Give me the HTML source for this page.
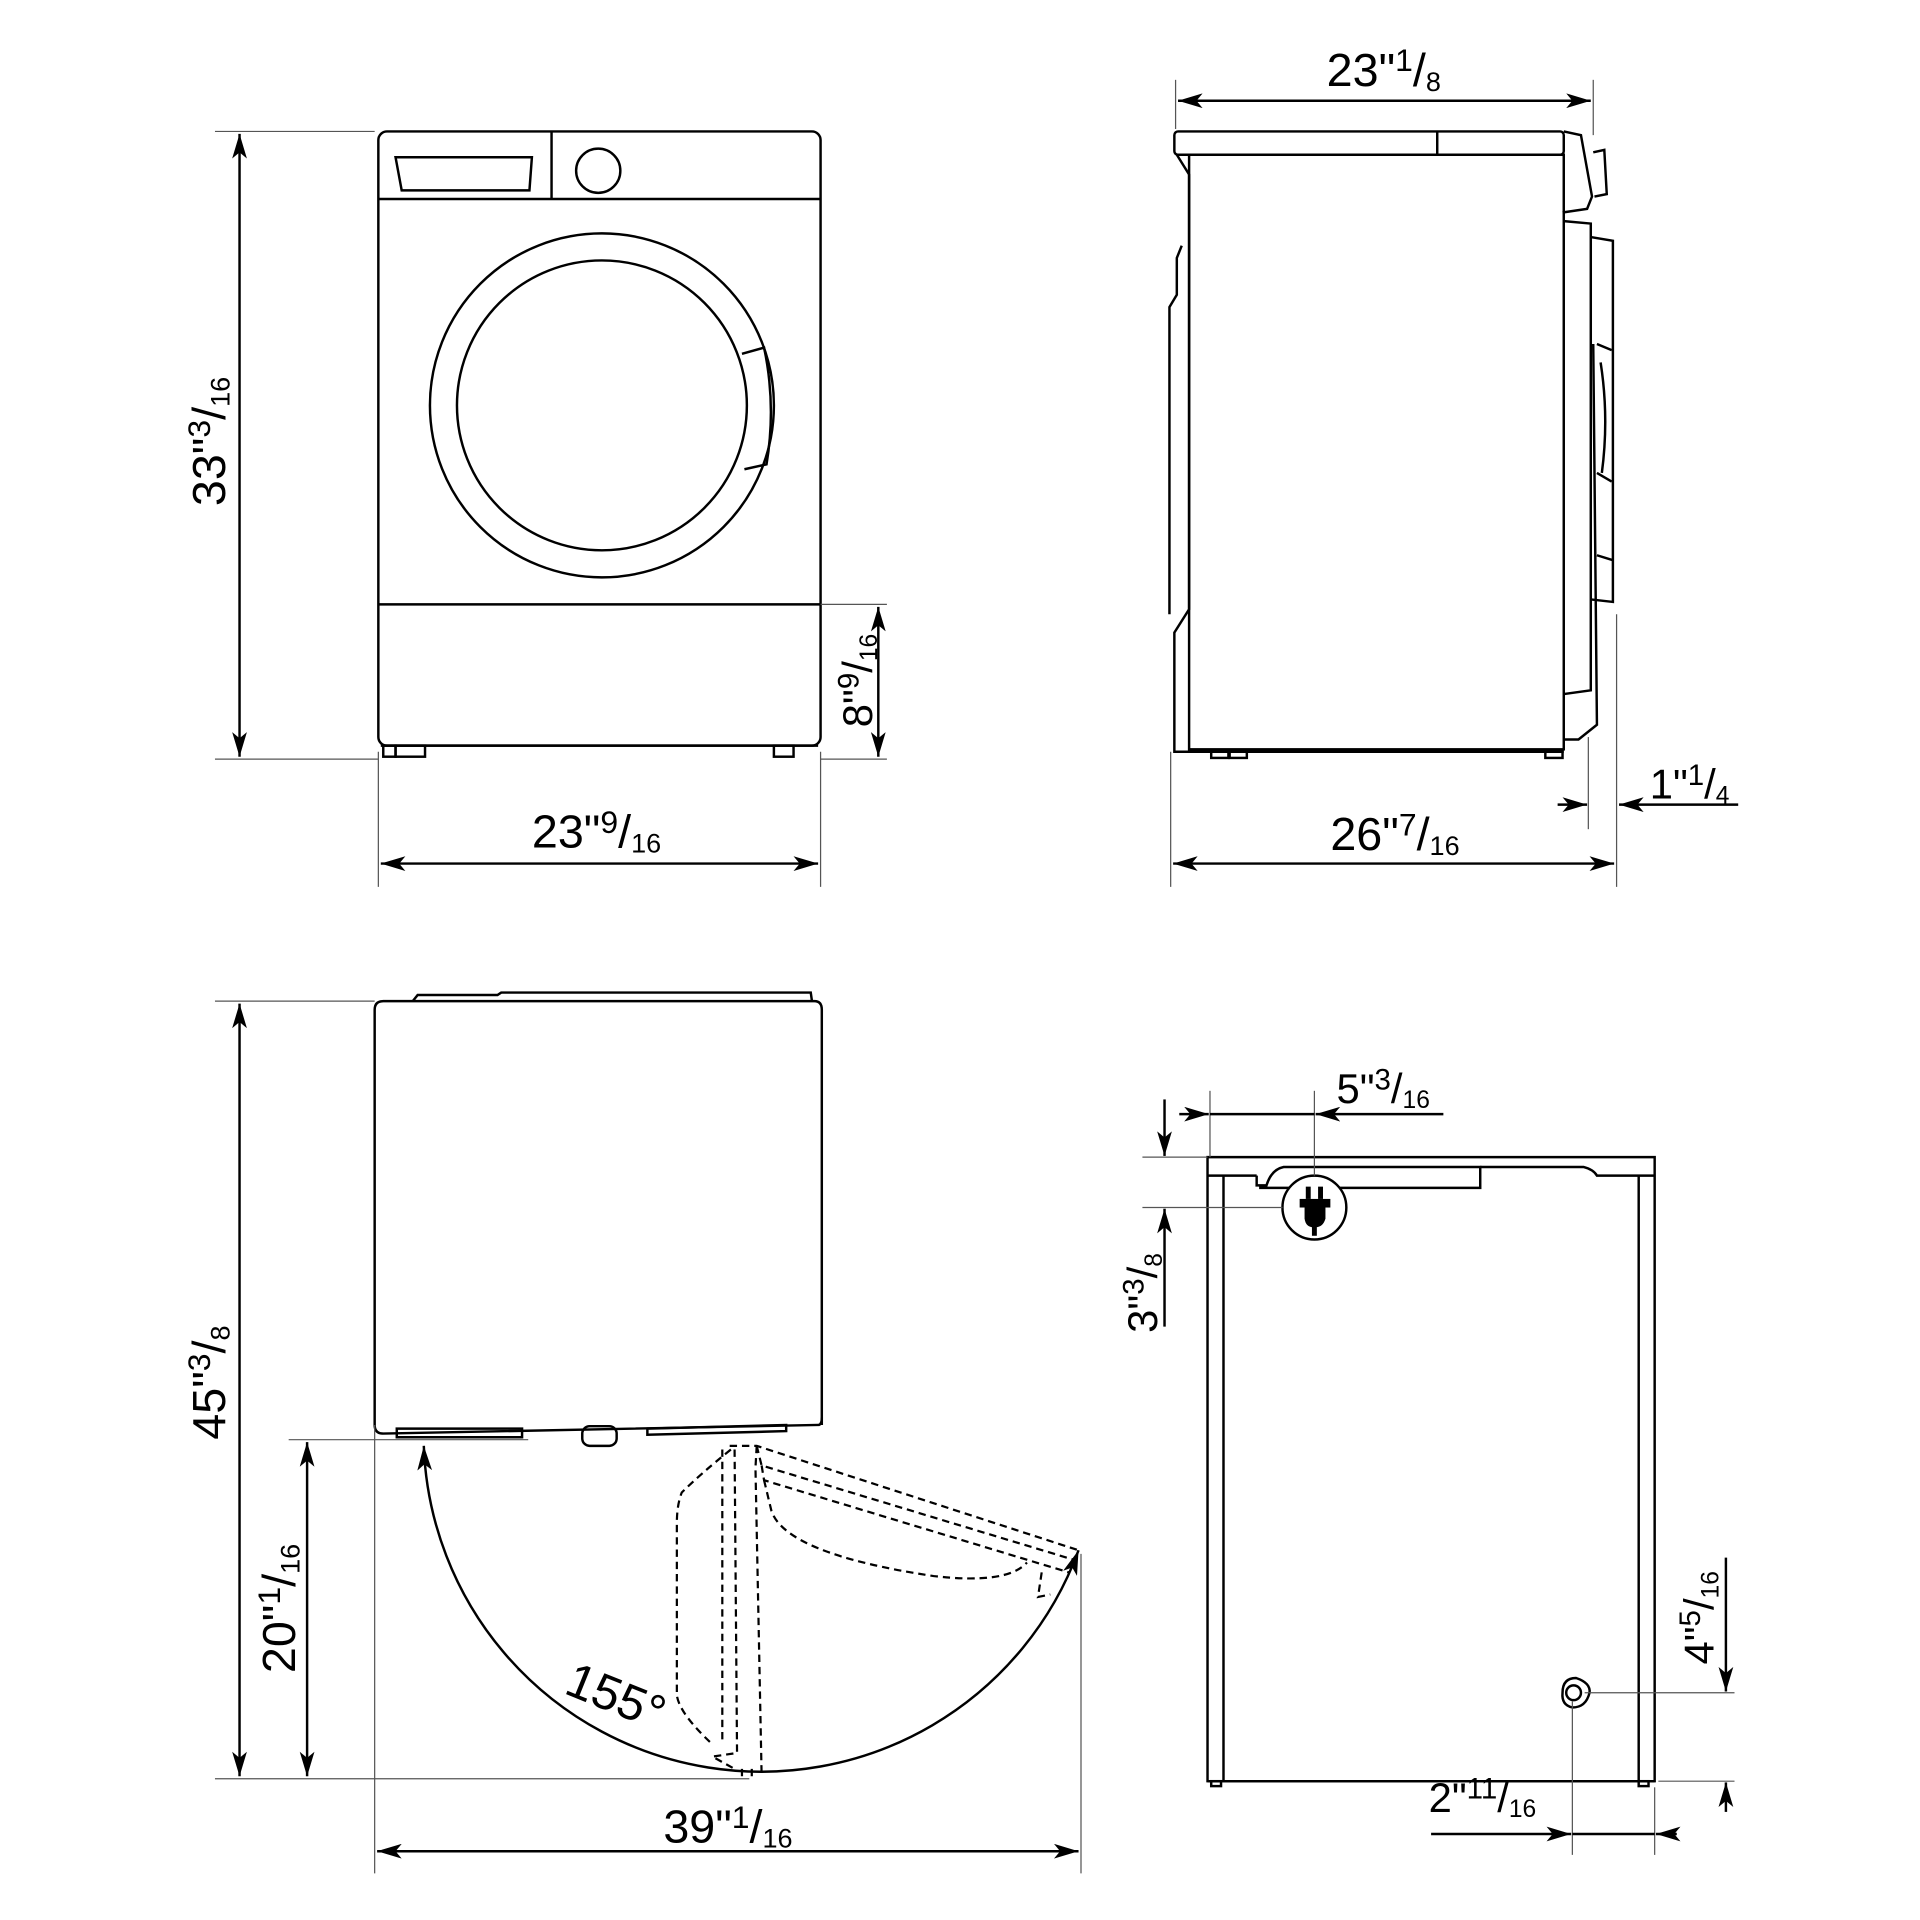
<!DOCTYPE html>
<html><head><meta charset="utf-8"><style>html,body{margin:0;padding:0;background:#fff}svg{display:block}</style></head>
<body>
<svg width="1920" height="1920" viewBox="0 0 1563 1563" xmlns="http://www.w3.org/2000/svg" font-family="Liberation Sans, sans-serif">
<defs>
<marker id="a" viewBox="0 0 20 12" refX="20" refY="6" markerWidth="20" markerHeight="12" markerUnits="userSpaceOnUse" orient="auto-start-reverse"><path d="M0,0 L20,6 L0,12 L5,6 Z" fill="#000"/></marker>
</defs>
<g fill="none" stroke="#000" stroke-width="2">
<!-- FRONT VIEW -->
<rect x="308" y="107" width="360" height="500" rx="7"/>
<line x1="308" y1="162" x2="668" y2="162"/>
<line x1="449" y1="107" x2="449" y2="162"/>
<path d="M322,128 L433,128 L431,155 L327,155 Z"/>
<circle cx="487" cy="139" r="18"/>
<circle cx="490" cy="330" r="140"/>
<circle cx="490" cy="330" r="118"/>
<path d="M604,288 L622,283 Q632,330 624,378 L606,382"/>
<line x1="308" y1="492" x2="668" y2="492"/>
<line x1="310" y1="607" x2="666" y2="607"/>
<rect x="312" y="607" width="10" height="9"/>
<rect x="322" y="607" width="24" height="9"/>
<rect x="630" y="607" width="16" height="9"/>
<!-- SIDE VIEW -->
<rect x="956" y="107" width="317" height="19" rx="3"/>
<line x1="1170" y1="107" x2="1170" y2="126"/>
<rect x="968" y="126" width="305" height="484"/>
<path d="M958,126 L968,142 L968,496 L956,515 L956,612 L1273,612"/>
<path d="M962,200 L958,210 L958,240 L952,250 L952,500"/>
<path d="M1273,107 L1287,110 L1296,160 L1292,170 L1272,173"/>
<path d="M1297,124 L1306,122 L1308,158 L1298,160"/>
<path d="M1273,180 L1295,182 L1295,562 L1273,565"/>
<path d="M1295,193 L1313,196 L1313,490 L1295,488"/>
<path d="M1297,280 L1300,590 L1285,602 L1273,602"/>
<path d="M1300,280 L1312,285 M1300,385 L1312,392 M1300,452 L1313,456"/>
<path d="M1303,295 Q1310,340 1304,385"/>
<rect x="986" y="612" width="14" height="5"/>
<rect x="1001" y="612" width="14" height="5"/>
<rect x="1258" y="612" width="14" height="5"/>
<!-- TOP VIEW (door) -->
<path d="M305,1160 L305,822 Q305,815 312,815 L663,815 Q669,815 669,822 L669,1160"/>
<path d="M336,815 L340,810 L405,810 L408,808 L660,808 L661,815" />
<path d="M305,1160 Q305,1167 312,1167 L666,1160 Q669,1160 669,1154"/>
<path d="M323,1163 L425,1163 L425,1170 L323,1170 Z"/>
<path d="M527,1163 L640,1160 L640,1165 L527,1168 Z"/>
<rect x="474" y="1161" width="28" height="16" rx="6"/>
<g stroke-dasharray="6,4" stroke-width="1.8">
<path d="M594,1177 L616,1177 L878,1262"/>
<path d="M616,1177 L620,1193 L875,1270"/>
<path d="M622,1205 L628,1230 Q640,1265 760,1283 Q820,1290 836,1272"/>
<path d="M620,1193 L622,1205 L870,1280"/>
<path d="M595,1180 Q570,1200 555,1215 Q551,1225 551,1240 L551,1380 Q553,1395 580,1420"/>
<path d="M588,1180 L588,1420"/>
<path d="M598,1180 L600,1427 L580,1430 L598,1440"/>
<path d="M616,1177 L615,1195 L620,1445"/>
<path d="M612,1440 L612,1447 M604,1440 L604,1447"/>
<path d="M848,1280 L845,1300 L855,1298"/>
</g>
<path d="M345,1177 A275,275 0 0 0 878,1262" marker-start="url(#a)" marker-end="url(#a)"/>
<!-- BACK VIEW -->
<path d="M983,1450 L983,942 L1347,942 L1347,1450 Z"/>
<path d="M983,957 L1023,957 M996,957 L996,1450 M1334,957 L1334,1450"/>
<path d="M1023,957 L1023,965 L1031,965 Q1035,952 1045,950 L1205,950 L1205,967 L1025,967"/>
<path d="M1205,950 L1289,950 Q1297,952 1300,957 L1302,957 L1347,957"/>
<path d="M983,1450 L1347,1450"/>
<rect x="986" y="1450" width="8" height="4"/>
<rect x="1334" y="1450" width="8" height="4"/>
<circle cx="1070" cy="983" r="26" fill="#fff"/>
<path d="M1272,1378 Q1272,1366 1283,1366 Q1295,1370 1294,1378 Q1291,1390 1280,1390 Q1271,1388 1272,1378 Z"/>
<circle cx="1281" cy="1378" r="6"/>
</g>
<!-- plug icon -->
<g fill="#000">
<rect x="1063" y="966" width="4" height="10"/><rect x="1073" y="966" width="4" height="10"/>
<rect x="1058" y="976" width="25" height="7"/>
<path d="M1062,983 L1079,983 L1079,992 Q1077,999 1071,999 L1069,999 Q1063,999 1062,992 Z"/>
<rect x="1068" y="998" width="4" height="8"/>
</g>
<!-- extension lines -->
<g stroke="#555" stroke-width="1" fill="none">
<line x1="175" y1="107" x2="305" y2="107"/><line x1="175" y1="618" x2="308" y2="618"/>
<line x1="668" y1="492" x2="722" y2="492"/><line x1="668" y1="618" x2="722" y2="618"/>
<line x1="308" y1="612" x2="308" y2="722"/><line x1="668" y1="612" x2="668" y2="722"/>
<line x1="957" y1="65" x2="957" y2="105"/><line x1="1297" y1="65" x2="1297" y2="110"/>
<line x1="953" y1="612" x2="953" y2="722"/><line x1="1316" y1="500" x2="1316" y2="722"/><line x1="1293" y1="600" x2="1293" y2="675"/>
<line x1="175" y1="815" x2="305" y2="815"/><line x1="175" y1="1448" x2="610" y2="1448"/>
<line x1="235" y1="1172" x2="430" y2="1172"/>
<line x1="305" y1="1160" x2="305" y2="1525"/><line x1="880" y1="1265" x2="880" y2="1525"/>
<line x1="985" y1="888" x2="985" y2="942"/><line x1="1070" y1="888" x2="1070" y2="957"/>
<line x1="930" y1="942" x2="983" y2="942"/><line x1="930" y1="983" x2="1044" y2="983"/>
<line x1="1290" y1="1378" x2="1412" y2="1378"/><line x1="1350" y1="1450" x2="1412" y2="1450"/>
<line x1="1280" y1="1385" x2="1280" y2="1510"/><line x1="1347" y1="1455" x2="1347" y2="1510"/>
</g>
<!-- dimension lines -->
<g stroke="#000" stroke-width="2" fill="none">
<line x1="195" y1="109" x2="195" y2="616" marker-start="url(#a)" marker-end="url(#a)"/>
<line x1="715" y1="494" x2="715" y2="616" marker-start="url(#a)" marker-end="url(#a)"/>
<line x1="310" y1="703" x2="666" y2="703" marker-start="url(#a)" marker-end="url(#a)"/>
<line x1="959" y1="82" x2="1295" y2="82" marker-start="url(#a)" marker-end="url(#a)"/>
<line x1="955" y1="703" x2="1314" y2="703" marker-start="url(#a)" marker-end="url(#a)"/>
<line x1="1268" y1="655" x2="1292" y2="655" marker-end="url(#a)"/>
<line x1="1415" y1="655" x2="1318" y2="655" marker-end="url(#a)"/>
<line x1="195" y1="817" x2="195" y2="1446" marker-start="url(#a)" marker-end="url(#a)"/>
<line x1="250" y1="1174" x2="250" y2="1446" marker-start="url(#a)" marker-end="url(#a)"/>
<line x1="307" y1="1507" x2="878" y2="1507" marker-start="url(#a)" marker-end="url(#a)"/>
<line x1="960" y1="907" x2="984" y2="907" marker-end="url(#a)"/>
<line x1="1175" y1="907" x2="1071" y2="907" marker-end="url(#a)"/>
<line x1="985" y1="907" x2="1070" y2="907"/>
<line x1="948" y1="895" x2="948" y2="941" marker-end="url(#a)"/>
<line x1="948" y1="1080" x2="948" y2="984" marker-end="url(#a)"/>
<line x1="1405" y1="1268" x2="1405" y2="1377" marker-end="url(#a)"/>
<line x1="1405" y1="1475" x2="1405" y2="1451" marker-end="url(#a)"/>
<line x1="1165" y1="1493" x2="1279" y2="1493" marker-end="url(#a)"/>
<line x1="1365" y1="1493" x2="1348" y2="1493" marker-end="url(#a)"/>
<line x1="1280" y1="1493" x2="1347" y2="1493"/>
</g>
<!-- labels -->
<g fill="#000" font-size="38">
<text transform="translate(183,412) rotate(-90)">33"<tspan font-size="26" dy="-12">3</tspan><tspan dy="12">/</tspan><tspan font-size="22" dy="4">16</tspan></text>
<text transform="translate(710,592) rotate(-90)" font-size="34">8"<tspan font-size="24" dy="-11">9</tspan><tspan dy="11">/</tspan><tspan font-size="20" dy="4">16</tspan></text>
<text x="433" y="690">23"<tspan font-size="26" dy="-12">9</tspan><tspan dy="12">/</tspan><tspan font-size="22" dy="4">16</tspan></text>
<text x="1080" y="70">23"<tspan font-size="26" dy="-12">1</tspan><tspan dy="12">/</tspan><tspan font-size="22" dy="4">8</tspan></text>
<text x="1083" y="692">26"<tspan font-size="26" dy="-12">7</tspan><tspan dy="12">/</tspan><tspan font-size="22" dy="4">16</tspan></text>
<text x="1343" y="650" font-size="34">1"<tspan font-size="24" dy="-11">1</tspan><tspan dy="11">/</tspan><tspan font-size="20" dy="4">4</tspan></text>
<text transform="translate(183,1172) rotate(-90)">45"<tspan font-size="26" dy="-12">3</tspan><tspan dy="12">/</tspan><tspan font-size="22" dy="4">8</tspan></text>
<text transform="translate(240,1362) rotate(-90)">20"<tspan font-size="26" dy="-12">1</tspan><tspan dy="12">/</tspan><tspan font-size="22" dy="4">16</tspan></text>
<text x="540" y="1500">39"<tspan font-size="26" dy="-12">1</tspan><tspan dy="12">/</tspan><tspan font-size="22" dy="4">16</tspan></text>
<text transform="translate(458,1378) rotate(22)" font-size="40">155°</text>
<text x="1088" y="898" font-size="34">5"<tspan font-size="24" dy="-11">3</tspan><tspan dy="11">/</tspan><tspan font-size="20" dy="4">16</tspan></text>
<text transform="translate(942,1085) rotate(-90)" font-size="34">3"<tspan font-size="24" dy="-11">3</tspan><tspan dy="11">/</tspan><tspan font-size="20" dy="4">8</tspan></text>
<text transform="translate(1395,1355) rotate(-90)" font-size="34">4"<tspan font-size="24" dy="-11">5</tspan><tspan dy="11">/</tspan><tspan font-size="20" dy="4">16</tspan></text>
<text x="1163" y="1475" font-size="34">2"<tspan font-size="24" dy="-11">11</tspan><tspan dy="11">/</tspan><tspan font-size="20" dy="4">16</tspan></text>
</g>
</svg>
</body></html>
